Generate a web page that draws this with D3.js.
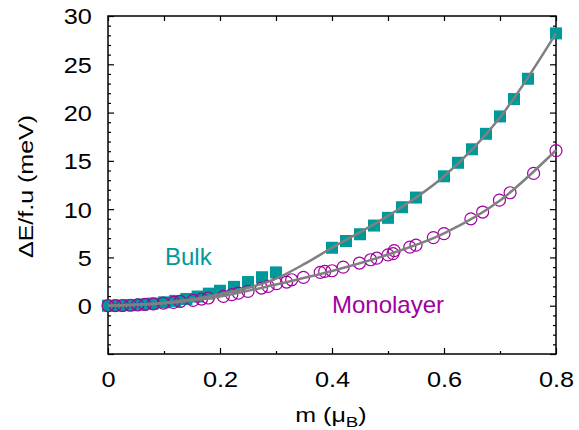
<!DOCTYPE html>
<html>
<head>
<meta charset="utf-8">
<script src="https://cdn.jsdelivr.net/npm/d3@7"></script>
<style>
body { margin: 0; background: #fff; }
text { font-family: "Liberation Sans", Arial, sans-serif; }
</style>
</head>
<body>
<svg id="chart"></svg>
<script>
var canvas_width = 579;
var canvas_height = 430;
var left_offset = 108;
var right_edge = 556;
var top_offset = 16;
var bottom_edge = 354;

// bulk (squares)
var bulk_m = [0, 0.02, 0.04, 0.06, 0.08, 0.1, 0.12, 0.14, 0.16, 0.18, 0.2, 0.225, 0.25, 0.275, 0.3,
              0.4, 0.425, 0.45, 0.475, 0.5, 0.525, 0.55, 0.6, 0.625, 0.65, 0.675, 0.7, 0.725, 0.75, 0.8];
var bulk_e = [0, 0.02, 0.06, 0.13, 0.22, 0.35, 0.5, 0.7, 0.95, 1.25, 1.55, 1.95, 2.45, 2.95, 3.45,
              6.0, 6.7, 7.4, 8.3, 9.1, 10.2, 11.2, 13.4, 14.8, 16.2, 17.8, 19.6, 21.4, 23.5, 28.2];

// monolayer (open circles)
var mono_m = [0, 0.013, 0.026, 0.04, 0.053, 0.066, 0.081, 0.099, 0.117, 0.129, 0.152, 0.167, 0.179,
              0.206, 0.221, 0.233, 0.25, 0.274, 0.286, 0.301, 0.319, 0.328, 0.349, 0.379, 0.387, 0.4,
              0.42, 0.449, 0.469, 0.48, 0.5, 0.509, 0.511, 0.539, 0.55, 0.581, 0.6, 0.648, 0.669,
              0.699, 0.718, 0.76, 0.8];
var mono_e = [0, 0.01, 0.02, 0.05, 0.08, 0.13, 0.2, 0.27, 0.34, 0.44, 0.55, 0.69, 0.8,
              0.97, 1.14, 1.31, 1.48, 1.83, 2.0, 2.28, 2.45, 2.69, 2.93, 3.45, 3.55, 3.62,
              4.0, 4.42, 4.76, 4.92, 5.27, 5.4, 5.7, 6.06, 6.28, 7.05, 7.47, 9.0, 9.7,
              10.93, 11.7, 13.7, 16.06];

// fitted curves (grey)
var bulk_fit_m = [0, 0.1, 0.2, 0.3, 0.35, 0.4, 0.5, 0.6, 0.7, 0.8];
var bulk_fit_e = [0, 0.3, 1.2, 2.8, 4.3, 6.0, 9.3, 13.4, 19.5, 28.2];
var mono_fit_m = [0, 0.1, 0.2, 0.3, 0.4, 0.5, 0.6, 0.7, 0.8];
var mono_fit_e = [0, 0.25, 0.95, 2.2, 3.6, 5.3, 7.5, 10.9, 16.1];

var x_ticks = [0, 0.2, 0.4, 0.6, 0.8];
var x_minor = [0.1, 0.3, 0.5, 0.7];
var y_ticks = [0, 5, 10, 15, 20, 25, 30];
var y_minor = d3.range(-5, 30, 1).filter(d => d % 5 != 0);

var bulk_colour = "#009999";
var mono_colour = "#a000a0";
var fit_colour = "#808080";

let svg = d3.select("#chart");
svg.attr("width", canvas_width).attr("height", canvas_height);

let x = d3.scaleLinear().domain([0, 0.8]).range([left_offset, right_edge]);
let y = d3.scaleLinear().domain([-5, 30]).range([bottom_edge, top_offset]);

function tidy(g){
    g.select(".domain").remove();
    g.selectAll("line").attr("stroke", "#000").attr("stroke-width", 1.2);
}

// bottom axis
svg.append("g")
    .attr("transform", "translate(0," + bottom_edge + ")")
    .call(d3.axisBottom(x).tickValues(x_ticks).tickSize(-6).tickFormat(d3.format("~g")))
    .call(tidy)
    .call(g => g.selectAll("text")
        .attr("y", 33).attr("dy", null)
        .attr("fill", "#000")
        .style("font-size", "22px")
        .attr("transform", "scale(1.15,1)"));
svg.append("g")
    .attr("transform", "translate(0," + bottom_edge + ")")
    .call(d3.axisBottom(x).tickValues(x_minor).tickSize(-3).tickFormat(""))
    .call(tidy);

// top axis
svg.append("g")
    .attr("transform", "translate(0," + top_offset + ")")
    .call(d3.axisTop(x).tickValues(x_ticks.concat(x_minor)).tickSize(-5).tickFormat(""))
    .call(tidy);

// left axis
svg.append("g")
    .attr("transform", "translate(" + left_offset + ",0)")
    .call(d3.axisLeft(y).tickValues(y_ticks.concat([-5])).tickSize(-6).tickFormat(d3.format("d")))
    .call(tidy)
    .call(g => g.selectAll("text")
        .attr("x", -14).attr("dy", "0.36em")
        .attr("fill", "#000")
        .style("font-size", "22px")
        .attr("transform", "scale(1.15,1)")
        .filter(d => d == -5).remove());
svg.append("g")
    .attr("transform", "translate(" + left_offset + ",0)")
    .call(d3.axisLeft(y).tickValues(y_minor).tickSize(-3).tickFormat(""))
    .call(tidy);

// right axis
svg.append("g")
    .attr("transform", "translate(" + right_edge + ",0)")
    .call(d3.axisRight(y).tickValues(y_ticks.concat([-5])).tickSize(-6).tickFormat(""))
    .call(tidy);
svg.append("g")
    .attr("transform", "translate(" + right_edge + ",0)")
    .call(d3.axisRight(y).tickValues(y_minor).tickSize(-3).tickFormat(""))
    .call(tidy);

// frame
svg.append("rect")
    .attr("x", left_offset).attr("y", top_offset)
    .attr("width", right_edge - left_offset)
    .attr("height", bottom_edge - top_offset)
    .attr("fill", "none").attr("stroke", "#000").attr("stroke-width", 1.5);

// markers
let bulk = bulk_m.map((m, i) => ({m: m, e: bulk_e[i]}));
let mono = mono_m.map((m, i) => ({m: m, e: mono_e[i]}));

svg.selectAll(".bulk-pt")
    .data(bulk)
    .join("rect")
    .attr("class", "bulk-pt")
    .attr("x", d => x(d.m) - 6)
    .attr("y", d => y(d.e) - 6)
    .attr("width", 12)
    .attr("height", 12)
    .attr("fill", bulk_colour);

svg.selectAll(".mono-pt")
    .data(mono)
    .join("circle")
    .attr("class", "mono-pt")
    .attr("cx", d => x(d.m))
    .attr("cy", d => y(d.e))
    .attr("r", 6)
    .attr("fill", "none")
    .attr("stroke", mono_colour)
    .attr("stroke-width", 1.2);

// fit lines
let line = d3.line()
    .x(d => x(d[0]))
    .y(d => y(d[1]))
    .curve(d3.curveMonotoneX);

svg.append("path")
    .attr("d", line(bulk_fit_m.map((m, i) => [m, bulk_fit_e[i]])))
    .attr("fill", "none").attr("stroke", fit_colour).attr("stroke-width", 2.5);
svg.append("path")
    .attr("d", line(mono_fit_m.map((m, i) => [m, mono_fit_e[i]])))
    .attr("fill", "none").attr("stroke", fit_colour).attr("stroke-width", 2.5);

// labels
svg.append("text")
    .attr("x", 165).attr("y", 265)
    .attr("fill", bulk_colour)
    .style("font-size", "24px")
    .text("Bulk");
svg.append("text")
    .attr("x", 332).attr("y", 313)
    .attr("fill", mono_colour)
    .style("font-size", "24px")
    .text("Monolayer");

// axis titles
svg.append("text")
    .attr("transform", "translate(33,186.5) rotate(-90) scale(1.25,1)")
    .attr("text-anchor", "middle")
    .style("font-size", "20px")
    .text("ΔE/f.u (meV)");

let xt = svg.append("text")
    .attr("transform", "translate(331,422) scale(1.25,1)")
    .attr("text-anchor", "middle")
    .style("font-size", "20px");
xt.append("tspan").text("m (μ");
xt.append("tspan").attr("dy", 5).style("font-size", "15px").text("B");
xt.append("tspan").attr("dy", -5).text(")");
</script>
</body>
</html>
